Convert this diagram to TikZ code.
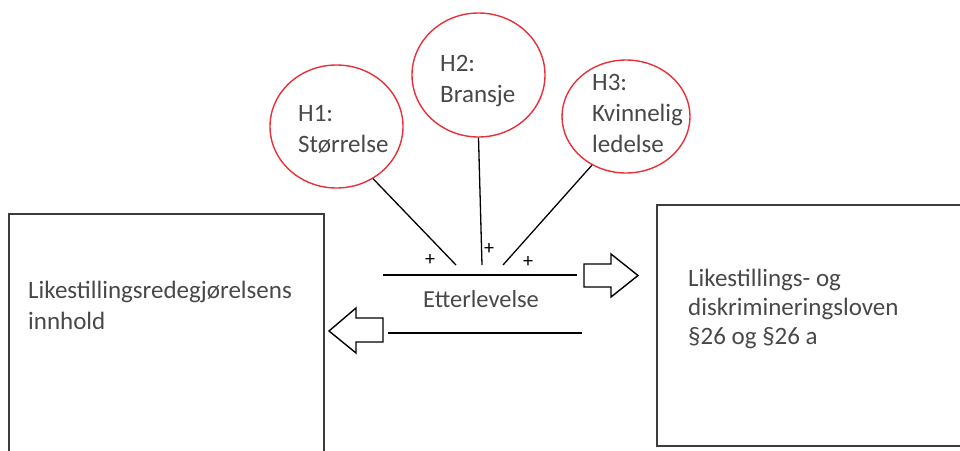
\documentclass[tikz,border=0pt]{standalone}
\usepackage{fontspec}
\setmainfont{Carlito}
\usetikzlibrary{shapes.geometric}
\definecolor{ringred}{RGB}{232,48,56}
\definecolor{inkgray}{RGB}{72,72,72}
\definecolor{framegray}{RGB}{60,60,60}
\begin{document}
\begin{tikzpicture}[x=1pt,y=-1pt,
  ring/.style={ellipse,draw=ringred,line width=1.4pt,inner sep=0pt},
  caption/.style={font=\fontsize{25}{31}\selectfont,text=inkgray,align=left,anchor=base west,inner sep=0pt},
  framebox/.style={draw=framegray,line width=2pt,anchor=north west,inner sep=0pt},
  link/.style={draw=black,line width=1.3pt},
  rail/.style={draw=black,line width=1.6pt},
  sign/.style={font=\fontsize{20}{20}\selectfont,inner sep=0pt},
  blockarrow/.style={draw=black,line width=1.4pt,fill=white,line join=miter}]
\useasboundingbox (0,0) rectangle (960,450);
\clip (0,0) rectangle (960,450);

% the two outer boxes (text nodes are placed by the baseline of their last line)
\node[framebox,minimum width=315pt,minimum height=257pt] (lbox) at (8,213) {};
\node[framebox,minimum width=320pt,minimum height=241pt] (rbox) at (656,204) {};
\node[caption] (ltext) at (28,329) {Likestillingsredegjørelsens\\innhold};
\node[caption,font=\fontsize{25}{29}\selectfont] (rtext) at (688,344)
  {Likestillings- og\\diskrimineringsloven\\§26 og §26 a};

% hypotheses
\node[ring,minimum width=133pt,minimum height=123pt] (h1) at (336.5,126.5) {};
\node[ring,minimum width=133pt,minimum height=124pt] (h2) at (478.5,75) {};
\node[ring,minimum width=128pt,minimum height=113pt] (h3) at (626,116.5) {};
\node[caption] (t1) at (298,152) {H1:\\Størrelse};
\node[caption] (t2) at (440,102) {H2:\\Bransje};
\node[caption] (t3) at (592,152) {H3:\\Kvinnelig\\ledelse};

% compliance bar
\coordinate (railA) at (383,275);
\coordinate (railB) at (577,275);
\coordinate (railC) at (388,333);
\coordinate (railD) at (582,333);
\draw[rail] (railA) -- (railB);
\draw[rail] (railC) -- (railD);
\node[caption,anchor=base,font=\fontsize{24.5}{30}\selectfont] (ett) at (481,307) {Etterlevelse};

% effects of the hypotheses
\coordinate (f1) at (456,265);
\coordinate (f2) at (482,265);
\coordinate (f3) at (503,265);
\draw[link] (h1.-55) -- (f1);
\draw[link] (h2.south) -- (f2);
\draw[link] (h3.-125) -- (f3);
\node[sign] (p1) at (430,260) {+};
\node[sign] (p2) at (489,249) {+};
\node[sign] (p3) at (528,262) {+};

% block arrows
\draw[blockarrow] (584,264) -- (611,264) -- (611,254) -- (638,275.5) -- (611,297)
  -- (611,287) -- (584,287) -- cycle;
\draw[blockarrow] (383,318) -- (356,318) -- (356,308) -- (329,331) -- (356,353)
  -- (356,342) -- (383,342) -- cycle;
\end{tikzpicture}
\end{document}
